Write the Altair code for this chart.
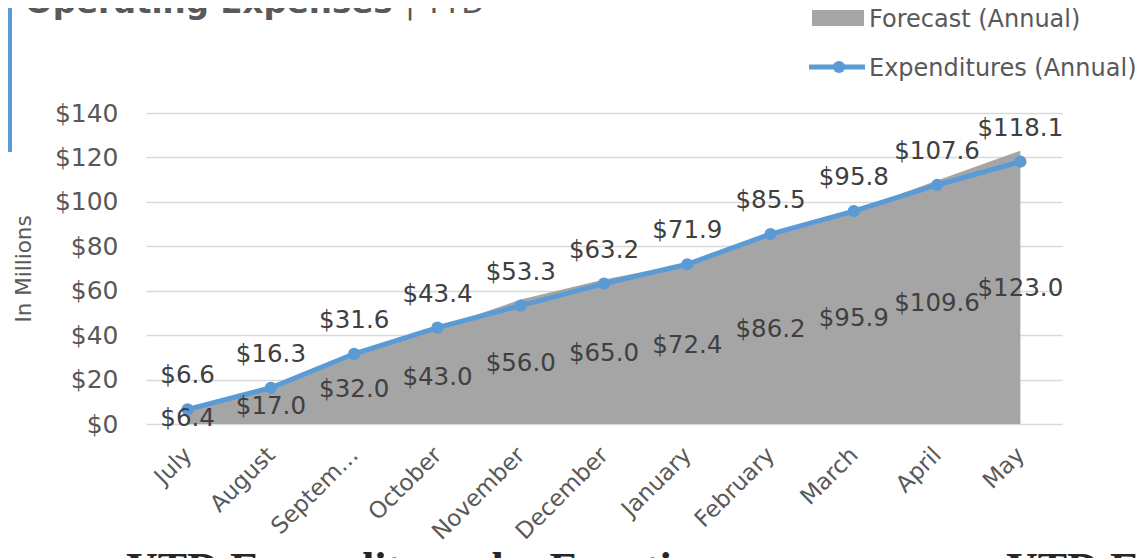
import altair as alt
import pandas as pd

months = ["July", "August", "September", "October", "November", "December",
          "January", "February", "March", "April", "May"]
forecast = [6.4, 17.0, 32.0, 43.0, 56.0, 65.0, 72.4, 86.2, 95.9, 109.6, 123.0]
expend = [6.6, 16.3, 31.6, 43.4, 53.3, 63.2, 71.9, 85.5, 95.8, 107.6, 118.1]
y_ticks = [0, 20, 40, 60, 80, 100, 120, 140]

title_main = "Operating Expenses"
title_sub = "| YTD"
legend_labels = ["Forecast (Annual)", "Expenditures (Annual)"]
y_title = "In Millions"
bottom_left = "YTD Expenditures by Function"
bottom_right = "YTD Expenditures"

df = pd.DataFrame({"month": months, "forecast": forecast, "expend": expend})
one = pd.DataFrame({"k": [0]})

FONT = "DejaVu Sans"
GRAY_AREA = "#a5a5a5"
BLUE = "#5b9bd5"
TXT = "#595959"
LBL = "#404040"

x_enc = alt.X(
    "month:N", sort=months,
    scale=alt.Scale(type="point", padding=0.5),
    axis=alt.Axis(
        title=None, labelAngle=315, labelFontSize=23, labelColor=TXT, labelFont=FONT,
        labelAlign="right", labelBaseline="middle",
        domain=False, ticks=False, grid=False, labelPadding=27,
        labelExpr="datum.label == 'September' ? 'Septem\u2026' : datum.label",
    ),
)

y_axis = alt.Axis(
    title=y_title, values=y_ticks, labelExpr="'$' + datum.value",
    labelFontSize=25, labelColor=TXT, labelFont=FONT, labelPadding=28,
    domain=False, ticks=False, grid=True, gridColor="#d9d9d9", gridWidth=1.5,
    titleFont=FONT, titleFontSize=21.5, titleColor=TXT, titleFontWeight="normal",
    titleAngle=270, titleX=-122, titleY=155.5, titleAlign="center", titleBaseline="middle",
)
y_scale = alt.Scale(domain=[0, 140], nice=False)

base = alt.Chart(df)

area = base.mark_area(color=GRAY_AREA).encode(
    x=x_enc, y=alt.Y("forecast:Q", scale=y_scale, axis=y_axis)
)
line = base.mark_line(color=BLUE, strokeWidth=5).encode(
    x=x_enc, y=alt.Y("expend:Q", scale=y_scale, axis=y_axis)
)
pts = base.mark_point(filled=True, opacity=1, size=150, color=BLUE).encode(
    x=x_enc, y=alt.Y("expend:Q", scale=y_scale, axis=y_axis)
)
exp_lbl = base.mark_text(font=FONT, fontSize=24.5, color=LBL, dy=-26,
                         baseline="alphabetic", align="center").encode(
    x=x_enc, y=alt.Y("expend:Q", scale=y_scale, axis=y_axis),
    text=alt.Text("expend:Q", format="$.1f"),
)
fc_lbl = base.transform_calculate(half="datum.forecast / 2").mark_text(
    font=FONT, fontSize=24.5, color=LBL, dy=9, baseline="alphabetic", align="center"
).encode(
    x=x_enc, y=alt.Y("half:Q", scale=y_scale, axis=y_axis),
    text=alt.Text("forecast:Q", format="$.1f"),
)

deco = alt.Chart(one)
# left accent bar
bar = deco.mark_rect(color=BLUE).encode(
    x=alt.value(-138), x2=alt.value(-134), y=alt.value(-105), y2=alt.value(39)
)
t_main = deco.mark_text(font=FONT, fontSize=32.5, fontWeight="bold", color=TXT,
                        align="left", baseline="alphabetic", text=title_main).encode(
    x=alt.value(-121), y=alt.value(-100)
)
t_sub = deco.mark_text(font=FONT, fontSize=30, color=TXT, align="left",
                       baseline="alphabetic", text=title_sub).encode(
    x=alt.value(259), y=alt.value(-100)
)
leg_rect = deco.mark_rect(color=GRAY_AREA).encode(
    x=alt.value(666), x2=alt.value(718), y=alt.value(-103), y2=alt.value(-87)
)
leg_t1 = deco.mark_text(font=FONT, fontSize=24, color=TXT, align="left",
                        baseline="alphabetic", text=legend_labels[0]).encode(
    x=alt.value(723), y=alt.value(-86)
)
leg_line = deco.mark_rule(color=BLUE, strokeWidth=5).encode(
    x=alt.value(663), x2=alt.value(719), y=alt.value(-46)
)
leg_pt = deco.mark_point(filled=True, opacity=1, size=150, color=BLUE).encode(
    x=alt.value(693), y=alt.value(-46)
)
leg_t2 = deco.mark_text(font=FONT, fontSize=24, color=TXT, align="left",
                        baseline="alphabetic", text=legend_labels[1]).encode(
    x=alt.value(723), y=alt.value(-37)
)
bot1 = deco.mark_text(font="Liberation Serif", fontSize=44, fontWeight="bold", color="#262626",
                      align="left", baseline="alphabetic", text=bottom_left).encode(
    x=alt.value(-20), y=alt.value(470)
)
bot2 = deco.mark_text(font="Liberation Serif", fontSize=44, fontWeight="bold", color="#262626",
                      align="left", baseline="alphabetic", text=bottom_right).encode(
    x=alt.value(860), y=alt.value(470)
)

chart = alt.layer(
    area, line, pts, exp_lbl, fc_lbl,
    bar, t_main, t_sub, leg_rect, leg_t1, leg_line, leg_pt, leg_t2, bot1, bot2,
).properties(
    width=916, height=311,
    autosize=alt.AutoSizeParams(type="none"),
    padding={"left": 138, "top": 105, "right": 74, "bottom": 134},
).configure_view(stroke=None)

chart.save("out.html", embed_options={"renderer": "svg", "actions": False})
